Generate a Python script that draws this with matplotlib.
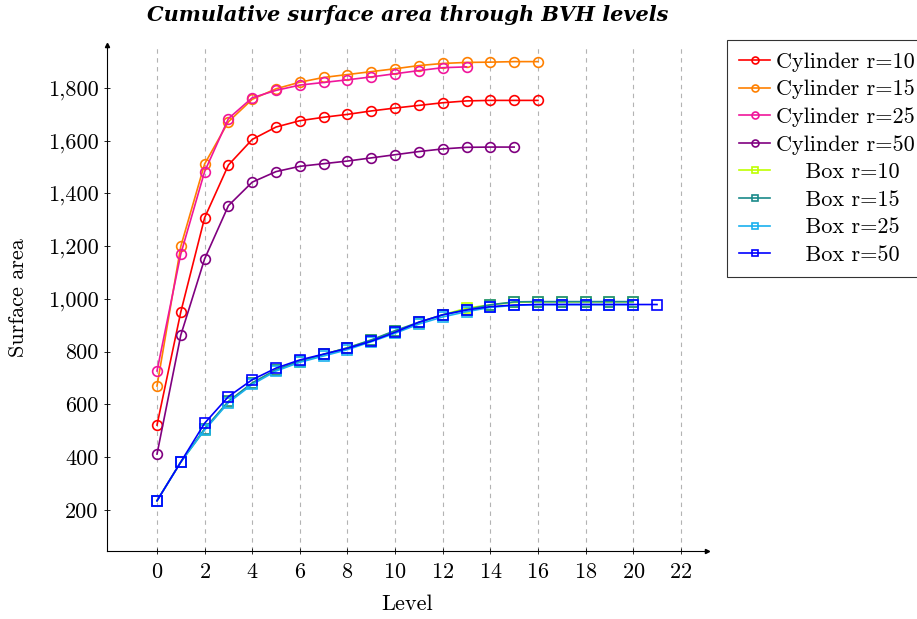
import matplotlib
matplotlib.use("Agg")
import matplotlib.pyplot as plt
from matplotlib.ticker import FuncFormatter

plt.rcParams['font.family'] = ['cmr10', 'DejaVu Serif']
plt.rcParams['axes.formatter.use_mathtext'] = True
plt.rcParams['mathtext.fontset'] = 'cm'

cyl_r10 = [522, 951, 1308, 1508, 1605, 1652, 1676, 1689, 1700, 1713, 1724, 1734, 1744, 1751, 1753, 1753, 1753]
cyl_r15 = [670, 1200, 1512, 1672, 1757, 1797, 1822, 1840, 1851, 1862, 1873, 1885, 1893, 1897, 1898, 1900, 1900]
cyl_r25 = [727, 1171, 1483, 1684, 1763, 1791, 1811, 1821, 1831, 1842, 1854, 1866, 1877, 1880]
cyl_r50 = [412, 863, 1152, 1354, 1443, 1483, 1503, 1513, 1523, 1535, 1547, 1559, 1569, 1575, 1576, 1576]
box_r10 = [235, 382, 505, 610, 680, 730, 762, 790, 815, 843, 878, 910, 940, 965, 978, 987, 989, 989, 989, 989, 989]
box_r15 = [235, 382, 508, 612, 682, 732, 764, 790, 815, 845, 880, 912, 940, 960, 978, 989, 990, 990, 990, 990, 990]
box_r25 = [235, 382, 503, 607, 676, 727, 760, 784, 808, 838, 870, 905, 932, 952, 968, 976, 979, 979, 979, 979, 979]
box_r50 = [235, 382, 529, 630, 694, 738, 769, 791, 813, 840, 874, 912, 940, 958, 971, 977, 979, 979, 979, 979, 979, 979]

series = [
    ("Cylinder r=10", cyl_r10, "#ff0000", "o"),
    ("Cylinder r=15", cyl_r15, "#ff8000", "o"),
    ("Cylinder r=25", cyl_r25, "#f0169b", "o"),
    ("Cylinder r=50", cyl_r50, "#800080", "o"),
    ("    Box r=10", box_r10, "#bfff00", "s"),
    ("    Box r=15", box_r15, "#1a8a8a", "s"),
    ("    Box r=25", box_r25, "#1ab0ef", "s"),
    ("    Box r=50", box_r50, "#0000ff", "s"),
]

title = "Cumulative surface area through BVH levels"
xlabel = "Level"
ylabel = "Surface area"
xticks = list(range(0, 23, 2))
yticks = list(range(200, 1801, 200))

fig = plt.figure(figsize=(9.17, 6.19), dpi=100)
ax = fig.add_axes([107/917, 68/619, 600/917, 506/619])

for label, vals, color, marker in series:
    ax.plot(range(len(vals)), vals, color=color, marker=marker, markersize=7,
            markerfacecolor='none', markeredgecolor=color, markeredgewidth=1.2,
            linewidth=1.2, label=label, zorder=3)

ax.set_xlim(-2.1, 23.1)
ax.set_ylim(44.5, 1963)
ax.set_xticks(xticks)
ax.set_yticks(yticks)
ax.yaxis.set_major_formatter(FuncFormatter(lambda v, p: f"{int(v):,}"))
ax.xaxis.grid(True, linestyle=(0, (4, 4)), color='#b3b3b3', linewidth=0.8)
ax.set_axisbelow(True)
ax.tick_params(direction='inout', length=5, width=0.6, labelsize=16)
ax.tick_params(axis='x', pad=6)
for s in ['top', 'right']:
    ax.spines[s].set_visible(False)
for s in ['left', 'bottom']:
    ax.spines[s].set_linewidth(0.8)
ax.plot(1, 0, '>k', transform=ax.transAxes, clip_on=False, markersize=3)
ax.plot(0, 1, '^k', transform=ax.transAxes, clip_on=False, markersize=3)

ax.set_xlabel(xlabel, fontsize=16, labelpad=9)
ax.set_ylabel(ylabel, fontsize=16, labelpad=14)
fig.text(408/917, 1 - 15/619, title, fontsize=15, family='DejaVu Serif',
         fontweight='bold', style='italic', ha='center', va='center')

leg = ax.legend(loc='upper left', bbox_to_anchor=(727/917, 1 - 40/619),
                bbox_transform=fig.transFigure, fontsize=16, frameon=True,
                fancybox=False, edgecolor='black', borderpad=0.55,
                labelspacing=0.36, handlelength=1.4, handletextpad=0.25,
                borderaxespad=0)
leg.get_frame().set_linewidth(0.8)
for h in leg.legend_handles:
    h.set_markersize(5)

fig.savefig("out.png", dpi=100)
